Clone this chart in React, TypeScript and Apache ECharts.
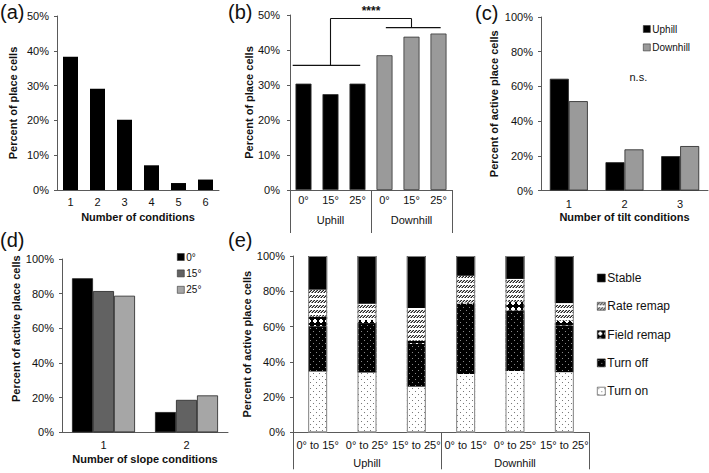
import React, { useEffect, useRef } from 'react';
import * as echarts from 'echarts';

// ---------- data ----------
const condA = ['1', '2', '3', '4', '5', '6'];
const pctA = [38.3, 29.1, 20.2, 7.1, 2.0, 3.0];

const slopeB = ['0°', '15°', '25°', '0°', '15°', '25°'];
const groupOfB = ['Uphill', 'Uphill', 'Uphill', 'Downhill', 'Downhill', 'Downhill'];
const pctB = [30.4, 27.4, 30.4, 38.5, 43.8, 44.7];
const dirGroups = ['Uphill', 'Downhill'];
const bracketLevelsB = [35.6, 46.4, 49.0]; // uphill bar, downhill bar, top
const sigLabelB = '****';

const tiltCond = ['1', '2', '3'];
const uphillC = [64.4, 16.3, 19.8];
const downhillC = [51.5, 23.7, 25.6];
const nsLabelC = 'n.s.';

const slopeCond = ['1', '2'];
const deg0D = [88.9, 11.7];
const deg15D = [81.5, 18.7];
const deg25D = [78.8, 21.3];

const transE = ['0° to 15°', '0° to 25°', '15° to 25°', '0° to 15°', '0° to 25°', '15° to 25°'];
const turnOnE = [34.5, 33.9, 25.9, 33.0, 34.8, 34.1];
const turnOffE = [25.7, 27.6, 24.3, 40.0, 34.3, 26.5];
const fieldRemapE = [5.5, 2.3, 1.8, 0.6, 5.1, 2.7];
const rateRemapE = [15.2, 9.1, 18.5, 15.2, 12.8, 10.0];
const stableE = [19.1, 27.1, 29.5, 11.2, 13.0, 26.7];

const FONT = "'Liberation Sans', Arial, Helvetica, sans-serif";
const AXIS = '#5a5a5a';
const TXT = '#111';
const GRAY = '#9a9a9a';

function makePattern(w: number, h: number, draw: (ctx: CanvasRenderingContext2D) => void) {
  const c = document.createElement('canvas');
  c.width = w;
  c.height = h;
  const ctx = c.getContext('2d')!;
  draw(ctx);
  return { image: c, repeat: 'repeat', imageWidth: w, imageHeight: h } as any;
}

function valueAxis(gridIndex: number, max: number, interval: number, name: string, nameGap: number, margin = 8, extra: any = {}) {
  return {
    type: 'value', gridIndex, min: 0, max, interval,
    axisLine: { show: true, lineStyle: { color: AXIS, width: 1 } },
    axisTick: { show: true, length: 3, lineStyle: { color: AXIS } },
    splitLine: { show: false },
    axisLabel: { formatter: '{value}%', fontSize: 11, color: TXT, fontFamily: FONT, margin },
    name, nameLocation: 'middle', nameGap,
    nameTextStyle: { fontSize: 11, fontWeight: 'bold', color: TXT, fontFamily: FONT, ...extra },
  };
}

function catAxis(gridIndex: number, data: string[], margin: number, name?: string, nameGap?: number) {
  return {
    type: 'category', gridIndex, data,
    axisLine: { show: true, lineStyle: { color: AXIS, width: 1 } },
    axisTick: { show: false },
    axisLabel: { fontSize: 11, color: TXT, fontFamily: FONT, margin, interval: 0 },
    name, nameLocation: 'middle', nameGap,
    nameTextStyle: { fontSize: 11, fontWeight: 'bold', color: TXT, fontFamily: FONT },
  };
}

function groupAxis(gridIndex: number, data: string[], margin: number, tickLen: number) {
  return {
    type: 'category', gridIndex, data, position: 'bottom',
    axisLine: { show: false },
    axisTick: { show: true, interval: 0, length: tickLen, lineStyle: { color: AXIS } },
    axisLabel: { fontSize: 11, color: TXT, fontFamily: FONT, margin, interval: 0 },
  };
}

export default function App() {
  const ref = useRef<HTMLDivElement>(null);
  useEffect(() => {
    const chart = echarts.init(ref.current!, null, { renderer: 'svg' });

    const turnOnPat = makePattern(6, 6, (ctx) => {
      ctx.fillStyle = '#fff'; ctx.fillRect(0, 0, 6, 6);
      ctx.fillStyle = '#777'; ctx.fillRect(1, 1, 1, 1); ctx.fillRect(4, 4, 1, 1);
    });
    const turnOffPat = makePattern(6, 6, (ctx) => {
      ctx.fillStyle = '#000'; ctx.fillRect(0, 0, 6, 6);
      ctx.fillStyle = '#8a8a8a'; ctx.fillRect(1, 1, 1, 1); ctx.fillRect(4, 4, 1, 1);
    });
    const fieldPat = makePattern(6, 6, (ctx) => {
      ctx.fillStyle = '#000'; ctx.fillRect(0, 0, 6, 6);
      ctx.fillStyle = '#fff'; ctx.fillRect(1, 2, 4, 2); ctx.fillRect(2, 1, 2, 4);
    });
    const ratePat = makePattern(3, 5, (ctx) => {
      ctx.fillStyle = '#fff'; ctx.fillRect(0, 0, 3, 5);
      ctx.fillStyle = '#222';
      ctx.fillRect(0, 2, 1, 1); ctx.fillRect(1, 1, 1, 1); ctx.fillRect(2, 0, 1, 1);
      ctx.fillStyle = '#888';
      ctx.fillRect(0, 1, 1, 1); ctx.fillRect(1, 0, 1, 1); ctx.fillRect(2, 2, 1, 1);
    });

    const grids = [
      { left: 57, top: 16, width: 162, height: 174 },
      { left: 290, top: 15, width: 162, height: 175 },
      { left: 541, top: 17, width: 167, height: 173.5 },
      { left: 62, top: 259, width: 166, height: 173.3 },
      { left: 293, top: 256, width: 296, height: 176.3 },
    ].map((g) => ({ ...g, containLabel: false, outerBoundsMode: 'none' }));

    const xAxis = [
      catAxis(0, condA, 6, 'Number of conditions', 21.5),
      catAxis(1, slopeB, 4.5),
      groupAxis(1, dirGroups, 24.5, 43),
      catAxis(2, tiltCond, 7.5, 'Number of tilt conditions', 21),
      catAxis(3, slopeCond, 7, 'Number of slope conditions', 21),
      catAxis(4, transE, 7.5),
      groupAxis(4, dirGroups, 25.5, 37),
    ];
    const yAxis = [
      valueAxis(0, 50, 10, 'Percent of place cells', 39),
      valueAxis(1, 50, 10, 'Percent of place cells', 33.5, 10),
      valueAxis(2, 100, 20, 'Percent of active place cells', 42),
      valueAxis(3, 100, 20, 'Percent of active place cells', 40, 8, { padding: [0, 0, 0, 34] }),
      valueAxis(4, 100, 20, 'Percent of active place cells', 36.5),
    ];

    const sumsE = turnOnE.map((v, i) => v + turnOffE[i] + fieldRemapE[i] + rateRemapE[i] + stableE[i]);
    const stackE = (name: string, data: number[], color: any) => ({
      type: 'bar', name, data, stack: 'e', xAxisIndex: 5, yAxisIndex: 4,
      barWidth: 19, barGap: '-100%',
      itemStyle: { color, borderWidth: 0 },
    });

    const series: any[] = [
      {
        type: 'bar', name: 'Place cells by conditions', data: pctA, xAxisIndex: 0, yAxisIndex: 0,
        barWidth: 15, itemStyle: { color: '#000' },
      },
      {
        type: 'bar', name: 'Place cells by slope', xAxisIndex: 1, yAxisIndex: 1, barWidth: 16,
        data: pctB.map((v, i) => ({
          value: v,
          itemStyle: { color: groupOfB[i] === 'Uphill' ? '#000' : GRAY, borderColor: '#333', borderWidth: 0.8 },
        })),
      },
      {
        type: 'bar', name: 'Uphill', data: uphillC, xAxisIndex: 3, yAxisIndex: 2, barWidth: 19, barGap: '0%',
        itemStyle: { color: '#000', borderColor: '#222', borderWidth: 0.8 },
      },
      {
        type: 'bar', name: 'Downhill', data: downhillC, xAxisIndex: 3, yAxisIndex: 2, barWidth: 19, barGap: '0%',
        itemStyle: { color: GRAY, borderColor: '#222', borderWidth: 0.8 },
      },
      {
        type: 'bar', name: '0°', data: deg0D, xAxisIndex: 4, yAxisIndex: 3, barWidth: 21, barGap: '0%',
        itemStyle: { color: '#000', borderColor: '#222', borderWidth: 0.8 },
      },
      {
        type: 'bar', name: '15°', data: deg15D, xAxisIndex: 4, yAxisIndex: 3, barWidth: 21, barGap: '0%',
        itemStyle: { color: '#626262', borderColor: '#222', borderWidth: 0.8 },
      },
      {
        type: 'bar', name: '25°', data: deg25D, xAxisIndex: 4, yAxisIndex: 3, barWidth: 21, barGap: '0%',
        itemStyle: { color: '#a6a6a6', borderColor: '#222', borderWidth: 0.8 },
      },
      stackE('Turn on', turnOnE, turnOnPat),
      stackE('Turn off', turnOffE, turnOffPat),
      stackE('Field remap', fieldRemapE, fieldPat),
      stackE('Rate remap', rateRemapE, ratePat),
      stackE('Stable', stableE, '#000'),
      {
        type: 'bar', name: 'outline', data: sumsE, xAxisIndex: 5, yAxisIndex: 4, barWidth: 19, barGap: '-100%',
        silent: true, z: 5,
        itemStyle: { color: 'rgba(0,0,0,0)', borderColor: '#808080', borderWidth: 1 },
      },
    ];

    const legendBase = {
      orient: 'vertical', icon: 'rect', padding: 0, itemWidth: 7, itemHeight: 7,
      selectedMode: false,
      itemStyle: { borderColor: '#333', borderWidth: 0.6 },
    };
    const legend = [
      { ...legendBase, data: ['Uphill', 'Downhill'], left: 643, top: 24, itemGap: 8.4,
        textStyle: { fontSize: 10, color: TXT, fontFamily: FONT, padding: [0, 0, 0, -3] } },
      { ...legendBase, data: ['0°', '15°', '25°'], left: 177, top: 252, itemGap: 6.4,
        textStyle: { fontSize: 10, color: TXT, fontFamily: FONT, padding: [0, 0, 0, -3] } },
      { ...legendBase, data: ['Stable', 'Rate remap', 'Field remap', 'Turn off', 'Turn on'], left: 597, top: 272,
        itemWidth: 8, itemHeight: 8, itemGap: 16.3,
        textStyle: { fontSize: 12, color: TXT, fontFamily: FONT, padding: [0, 0, 0, -3] } },
    ];

    chart.setOption({
      animation: false,
      backgroundColor: '#fff',
      textStyle: { fontFamily: FONT },
      grid: grids,
      xAxis,
      yAxis,
      legend,
      series,
    } as any);

    // annotations computed from the laid-out axes
    const px = (i: number, v: number) => chart.convertToPixel({ xAxisIndex: 1, yAxisIndex: 1 } as any, [i, v]) as number[];
    const step = px(1, 0)[0] - px(0, 0)[0];
    const upIdx = groupOfB.map((g, i) => (g === 'Uphill' ? i : -1)).filter((i) => i >= 0);
    const downIdx = groupOfB.map((g, i) => (g === 'Downhill' ? i : -1)).filter((i) => i >= 0);
    const upL = px(upIdx[0], 0)[0] - 0.4 * step;
    const upR = px(upIdx[upIdx.length - 1], 0)[0] + 0.1 * step;
    const dnL = px(downIdx[0], 0)[0] + 0.05 * step;
    const dnR = px(downIdx[downIdx.length - 1], 0)[0] + 0.08 * step;
    const upC = px(upIdx[1], 0)[0];
    const dnC = px(downIdx[1], 0)[0];
    const yUp = px(0, bracketLevelsB[0])[1];
    const yDn = px(0, bracketLevelsB[1])[1];
    const yTop = px(0, bracketLevelsB[2])[1];
    const ls = { stroke: '#111', lineWidth: 1.1 };
    const line = (x1: number, y1: number, x2: number, y2: number) => ({ type: 'line', shape: { x1, y1, x2, y2 }, style: ls, silent: true });

    const pc = chart.convertToPixel({ xAxisIndex: 3, yAxisIndex: 2 } as any, [1, 0]) as number[];
    const pc2 = chart.convertToPixel({ xAxisIndex: 3, yAxisIndex: 2 } as any, [2, 65.5]) as number[];

    const panelLabel = (t: string, x: number, y: number) => ({
      type: 'text', x, y, silent: true,
      style: { text: t, fontSize: 20, fontFamily: FONT, fill: TXT, textAlign: 'left', textVerticalAlign: 'middle' },
    });

    chart.setOption({
      graphic: {
        elements: [
          panelLabel('(a)', 0, 11.5),
          panelLabel('(b)', 228, 11.5),
          panelLabel('(c)', 475, 12.5),
          panelLabel('(d)', 0, 240),
          panelLabel('(e)', 228, 240),
          line(upL, yUp, upR, yUp),
          line(dnL, yDn, dnR, yDn),
          line(upC, yTop, dnC, yTop),
          line(upC, yTop, upC, yUp),
          line(dnC, yTop, dnC, yDn),
          {
            type: 'text', x: (upC + dnC) / 2, y: yTop - 2, silent: true,
            style: { text: sigLabelB, fontSize: 12, fontWeight: 'bold', fontFamily: FONT, fill: TXT, textAlign: 'center', textVerticalAlign: 'bottom' },
          },
          {
            type: 'text', x: (pc[0] + pc2[0]) / 2 - 14, y: pc2[1], silent: true,
            style: { text: nsLabelC, fontSize: 11, fontFamily: FONT, fill: TXT, textAlign: 'center', textVerticalAlign: 'middle' },
          },
        ],
      },
    } as any);

    return () => chart.dispose();
  }, []);
  return <div ref={ref} style={{ position: 'fixed', left: 0, top: 0, width: 709, height: 473, background: '#fff' }} />;
}
